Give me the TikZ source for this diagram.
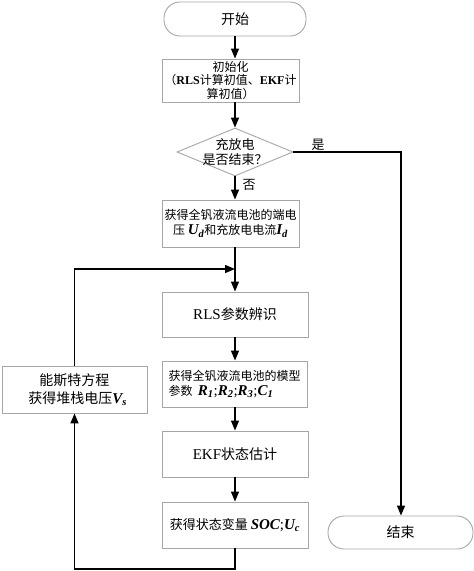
\documentclass[tikz,border=0pt]{standalone}
\usepackage{fontspec}
\setmainfont{Liberation Serif}
\newfontfamily\zh{Noto Sans CJK SC}
\usetikzlibrary{shapes.geometric,arrows.meta}
\newcommand\lt[1]{{\rmfamily #1}}
\newcommand\bi[1]{{\rmfamily\bfseries\itshape #1}}
\newcommand\bisub[2]{{\rmfamily\bfseries\itshape #1\textsubscript{#2}}}
\begin{document}
\begin{tikzpicture}[x=1pt,y=-1pt,
  box/.style={draw=gray!70,line width=0.9pt,rectangle,align=center,inner sep=2pt,font=\zh\fontsize{13}{16}\selectfont},
  term/.style={draw=gray!70,line width=0.9pt,rectangle,rounded corners=16pt,font=\zh\fontsize{14}{16}\selectfont},
  conn/.style={line width=1.4pt,-{Triangle[length=10pt,width=8pt]}},
  plain/.style={line width=1.4pt},
  lbl/.style={font=\zh\fontsize{13}{15}\selectfont,inner sep=0pt}]
\useasboundingbox (0,0) rectangle (474,571);
\node[term,minimum width=142pt,minimum height=34pt] (start) at (235,19) {开始};
\node[box,minimum width=137pt,minimum height=43pt,font=\zh\fontsize{12}{13.5}\selectfont] (init) at (230.5,80.5)
  {初始化\\（\lt{\bfseries RLS}计算初值、\lt{\bfseries EKF}计\\算初值）};
\node[diamond,draw=gray!70,line width=0.9pt,minimum width=116pt,minimum height=48pt,inner sep=0pt] (dia) at (235,152) {};
\node[align=center,font=\zh\fontsize{13}{15}\selectfont,inner sep=0pt] (diat) at (dia.center) {充放电\\是否结束？};
\node[box,minimum width=137pt,minimum height=47pt,font=\zh\fontsize{12}{15}\selectfont] (b1) at (230.5,223.5)
  {获得全钒液流电池的端电\\压 {\fontsize{15}{15}\selectfont\bisub{U}{d}}和充放电电流{\fontsize{15}{15}\selectfont\bisub{I}{d}}};
\coordinate (j) at (235,269);
\node[box,minimum width=146pt,minimum height=45pt,font=\zh\fontsize{14}{16}\selectfont] (rls) at (235,314.5) {\lt{\fontsize{15}{16}\selectfont RLS}参数辨识};
\node[box,minimum width=145pt,minimum height=46pt,align=left,font=\zh\fontsize{12}{15}\selectfont] (mod) at (234.5,384)
  {获得全钒液流电池的模型\\参数\ \ {\fontsize{15}{15}\selectfont\bisub{R}{1}\lt{;}\bisub{R}{2}\lt{;}\bisub{R}{3}\lt{;}\bisub{C}{1}}};
\node[box,minimum width=146pt,minimum height=46pt,font=\zh\fontsize{14}{16}\selectfont] (ekf) at (235,454) {\lt{\fontsize{15}{16}\selectfont EKF}状态估计};
\node[box,minimum width=146pt,minimum height=46pt,font=\zh\fontsize{13}{16}\selectfont] (soc) at (235,525)
  {获得状态变量 {\fontsize{15}{15}\selectfont\bi{SOC}\lt{;}\bisub{U}{c}}};
\node[box,minimum width=145pt,minimum height=47pt,font=\zh\fontsize{14}{18}\selectfont] (ner) at (74.5,389.5)
  {能斯特方程\\\ \ 获得堆栈电压{\fontsize{15}{15}\selectfont\bisub{V}{s}}};
\node[term,minimum width=145pt,minimum height=33pt] (end) at (400.5,532.5) {结束};
\coordinate (rt) at (401,152);
\coordinate (bot) at (235,569);
\draw[conn] (start.south) -- (start.south |- init.north);
\draw[conn] (init.south -| dia.north) -- (dia.north);
\draw[conn] (dia.south) -- (dia.south |- b1.north);
\draw[plain] (b1.south -| rls.north) -- (j);
\draw[conn] (j) -- (rls.north);
\draw[conn] (rls.south) -- (mod.north -| rls.south);
\draw[conn] (mod.south -| ekf.north) -- (ekf.north);
\draw[conn] (ekf.south) -- (soc.north);
\draw[conn] (soc.south) -- (bot) -| (ner.south);
\draw[conn] (ner.north) |- (j);
\draw[conn] (dia.east) -- (rt) -- (rt |- end.north);
\node[lbl] (yes) at (318,145) {是};
\node[lbl] (no) at (249,185) {否};
\end{tikzpicture}
\end{document}
